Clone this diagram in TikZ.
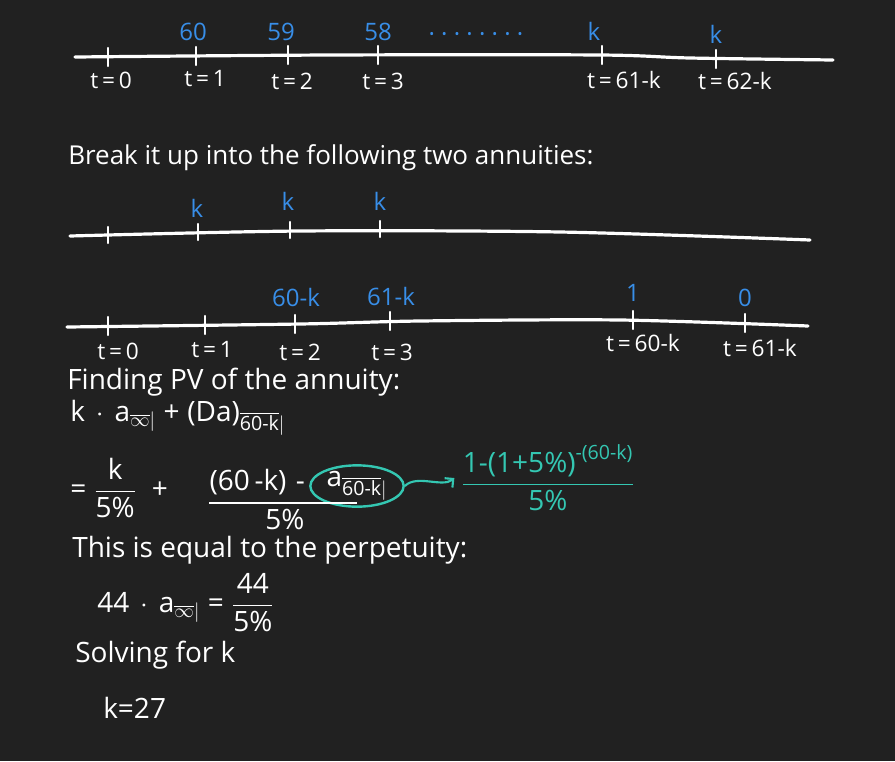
\documentclass[tikz,border=0pt]{standalone}
\RequirePackage{fix-cm}
\usepackage{amsmath}
\usepackage{fontspec}
\setmainfont{Open Sans}
\usepackage{tikz}
\usetikzlibrary{arrows.meta,positioning,calc,shapes.geometric}
\usepackage{xcolor}
\definecolor{boardbg}{RGB}{33,33,33}
\definecolor{penblue}{RGB}{56,142,232}
\definecolor{penteal}{RGB}{52,199,178}
\newcommand{\lifeang}[1]{_{\overline{#1}|}}

\begin{document}
\begin{tikzpicture}[x=0.75pt, y=-0.75pt,
    axisline/.style={white, line width=2.4pt, line cap=round},
    tickmark/.style={white, line width=1.8pt, line cap=round},
    cash/.style={text=penblue, font=\fontsize{18}{21}\selectfont},
    tlbl/.style={text=white, font=\fontsize{17}{20}\selectfont},
    note/.style={text=white, anchor=west, inner sep=0pt, font=\fontsize{21}{25}\selectfont},
    hint/.style={text=penteal, inner sep=0pt, font=\fontsize{21}{25}\selectfont},
    circ/.style={ellipse, draw=penteal, line width=1.8pt, text=white, inner sep=0pt,
        minimum width=70pt, minimum height=30pt, font=\fontsize{21}{25}\selectfont},
    fbar/.style={white, line width=1.8pt},
    squig/.style={penteal, line width=1.6pt, -{Straight Barb[length=1.6mm]}}
]
    \fill[boardbg] (0,0) rectangle (895,761);
    \useasboundingbox (0,0) rectangle (895,761);

    % full cash flow
    \draw[axisline] plot[smooth] coordinates {(75,57) (330,55) (600,55) (690,58) (833,60)};
    \foreach \x/\y in {108/57,196/56,288/55,378/55,602/55,716/59}
        \draw[tickmark] (\x,\y-9) -- (\x,\y+9);
    \node[cash] (pay1) at (193,32) {60};
    \node[cash] (pay2) at (281,32) {59};
    \node[cash] (pay3) at (378,32) {58};
    \node[cash] (paydots) at (476,37) {· · · · · · · ·};
    \node[cash] (payk) at (594,31) {k};
    \node[cash] (paylast) at (716,34) {k};
    \node[tlbl] (ta0) at (111,80) {t\,=\,0};
    \node[tlbl] (ta1) at (205,79) {t\,=\,1};
    \node[tlbl] (ta2) at (292,81) {t\,=\,2};
    \node[tlbl] (ta3) at (383,81) {t\,=\,3};
    \node[tlbl] (tan) at (624,80) {t\,=\,61-k};
    \node[tlbl] (tam) at (735,81) {t\,=\,62-k};

    \node[note, font=\fontsize{19.5}{23}\selectfont] (split) at (68,158) {Break it up into the following two annuities:};

    % level part
    \draw[axisline] plot[smooth] coordinates {(70,236) (300,231) (560,232) (810,240)};
    \foreach \x/\y in {108/235,198/232,290/230,380/229}
        \draw[tickmark] (\x,\y-8) -- (\x,\y+8);
    \node[cash] (lev1) at (197,208) {k};
    \node[cash] (lev2) at (288,201) {k};
    \node[cash] (lev3) at (380,201) {k};

    % decreasing part
    \draw[axisline] plot[smooth] coordinates {(67,327) (300,324) (420,321) (620,320) (808,326)};
    \foreach \x/\y in {108/326,205/325,295/324,390/321,633/320,745/323}
        \draw[tickmark] (\x,\y-9) -- (\x,\y+9);
    \node[cash] (dec2) at (296,297) {60-k};
    \node[cash] (dec3) at (391,296) {61-k};
    \node[cash] (decn) at (633,293) {1};
    \node[cash] (decm) at (745,298) {0};
    \node[tlbl] (tb0) at (118,351) {t\,=\,0};
    \node[tlbl] (tb1) at (212,350) {t\,=\,1};
    \node[tlbl] (tb2) at (300,352) {t\,=\,2};
    \node[tlbl] (tb3) at (392,352) {t\,=\,3};
    \node[tlbl] (tbn) at (643,343) {t\,=\,60-k};
    \node[tlbl] (tbm) at (760,348) {t\,=\,61-k};

    \node[note] (pvhead) at (67,382) {Finding PV of the annuity:};
    \node[note] (pvsum) at (70,418) {$\text{k}\,\cdot\,\text{a}\lifeang{\infty}\;\text{+}\;\text{(Da)}\lifeang{\text{60-k}}$};

    \node[note] (eqk) at (70,488) {$\text{=}\;\dfrac{\text{k}}{\text{5\%}}\;\;\text{+}$};
    \node[circ] (ann) at (357,486) {$\text{a}\lifeang{\text{60-k}}$};
    \node[note, anchor=east] (num) at ([xshift=-3pt, yshift=3pt]ann.west) {(60\,-k)\,\,-};
    \draw[fbar] ([yshift=-6pt]num.south west) -- ([yshift=-6pt]num.south west -| ann.center);
    \node[note, anchor=center] (den) at (285,519) {5\%};
    \node[hint] (tfrac) at (548,478) {$\dfrac{\text{1-(1+5\%)}^{\text{-(60-k)}}}{\text{5\%}}$};
    \draw[squig] (ann.east) .. controls +(12,-12) and +(-12,10) .. ([xshift=-5pt]tfrac.west);

    \node[note] (perphead) at (72,550) {This is equal to the perpetuity:};
    \node[note] (perp) at (97,603) {$\text{44}\,\cdot\,\text{a}\lifeang{\infty}\;\text{=}\;\dfrac{\text{44}}{\text{5\%}}$};
    \node[note] (solve) at (75,655) {Solving for k};
    \node[note] (answer) at (103,708) {k=27};
\end{tikzpicture}
\end{document}
